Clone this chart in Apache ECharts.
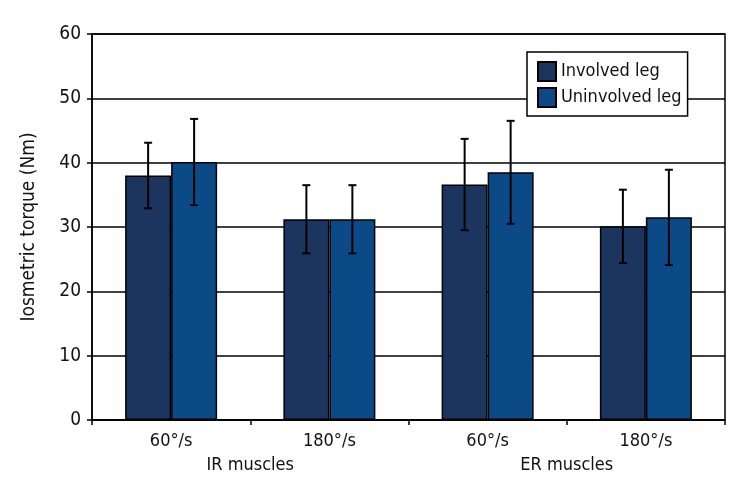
<!DOCTYPE html>
<html>
<head>
<meta charset="utf-8">
<script src="https://cdn.jsdelivr.net/npm/echarts@6/dist/echarts.min.js"></script>
<style>html,body{margin:0;padding:0;background:#fff}#c{width:744px;height:504px}</style>
</head>
<body>
<div id="c"></div>
<script>
var categories = ['60°/s', '180°/s', '60°/s', '180°/s'];
var groups = ['IR muscles', 'ER muscles'];
var seriesNames = ['Involved leg', 'Uninvolved leg'];
var involvedMean = [38.0, 31.2, 36.6, 30.1];
var involvedSD = [5.1, 5.3, 7.1, 5.7];
var uninvolvedMean = [40.1, 31.2, 38.5, 31.5];
var uninvolvedSD = [6.7, 5.3, 8.0, 7.4];
var yTicks = {min: 0, max: 60, interval: 10};

var FONT = "'DejaVu Sans Condensed', 'Liberation Sans Narrow', 'Noto Sans', sans-serif";
var BW = 46;
var colors = ['#1c355e', '#0c4a87'];

function errData(mean, sd) {
  return mean.map(function (m, i) { return [i, m - sd[i], m + sd[i]]; });
}
function errSeries(mean, sd, off) {
  return {
    type: 'custom',
    xAxisIndex: 0,
    z: 10,
    silent: true,
    data: errData(mean, sd),
    encode: {x: 0, y: [1, 2]},
    renderItem: function (params, api) {
      var lo = api.coord([api.value(0), api.value(1)]);
      var hi = api.coord([api.value(0), api.value(2)]);
      var x = lo[0] + off;
      var cap = 4;
      var st = {stroke: '#000', lineWidth: 2};
      return {
        type: 'group',
        children: [
          {type: 'line', shape: {x1: x, y1: lo[1], x2: x, y2: hi[1]}, style: st},
          {type: 'line', shape: {x1: x - cap, y1: lo[1], x2: x + cap, y2: lo[1]}, style: st},
          {type: 'line', shape: {x1: x - cap, y1: hi[1], x2: x + cap, y2: hi[1]}, style: st}
        ]
      };
    }
  };
}

var chart = echarts.init(document.getElementById('c'));
chart.setOption({
  animation: false,
  backgroundColor: '#fff',
  grid: {left: 92, right: 19, top: 34, bottom: 84, show: true, borderColor: '#000', borderWidth: 1.5, backgroundColor: 'transparent'},
  legend: {
    data: seriesNames,
    orient: 'vertical',
    left: 527, top: 52,
    padding: [9, 6, 8, 10],
    itemGap: 5,
    itemWidth: 18, itemHeight: 19,
    backgroundColor: '#fff',
    borderColor: '#000', borderWidth: 1.5,
    textStyle: {fontFamily: FONT, fontSize: 18, color: '#111'},
    icon: 'rect'
  },
  xAxis: [{
    type: 'category',
    data: categories,
    axisLine: {lineStyle: {color: '#000', width: 1.5}},
    axisTick: {show: true, length: 5, lineStyle: {color: '#000', width: 1.5}},
    axisLabel: {fontFamily: FONT, fontSize: 18, color: '#111', margin: 12}
  }, {
    type: 'category',
    data: groups,
    position: 'bottom',
    offset: 24,
    axisLine: {show: false},
    axisTick: {show: false},
    axisLabel: {fontFamily: FONT, fontSize: 18, color: '#111', margin: 12}
  }],
  yAxis: {
    type: 'value',
    min: yTicks.min, max: yTicks.max, interval: yTicks.interval,
    name: 'Iosmetric torque (Nm)',
    nameLocation: 'middle',
    nameGap: 53,
    nameTextStyle: {fontFamily: FONT, fontSize: 19, color: '#111'},
    axisLine: {show: true, lineStyle: {color: '#000', width: 1.5}},
    axisTick: {show: true, length: 5, lineStyle: {color: '#000', width: 1.5}},
    axisLabel: {fontFamily: FONT, fontSize: 19, color: '#111', margin: 11},
    splitLine: {lineStyle: {color: '#000', width: 1.5}}
  },
  series: [{
    name: seriesNames[0], type: 'bar', data: involvedMean, barWidth: BW, barGap: '0%',
    itemStyle: {color: colors[0], borderColor: '#000', borderWidth: 1.5}
  }, {
    name: seriesNames[1], type: 'bar', data: uninvolvedMean, barWidth: BW, barGap: '0%',
    itemStyle: {color: colors[1], borderColor: '#000', borderWidth: 1.5}
  },
  errSeries(involvedMean, involvedSD, -BW / 2),
  errSeries(uninvolvedMean, uninvolvedSD, BW / 2)
  ]
});
</script>
</body>
</html>
